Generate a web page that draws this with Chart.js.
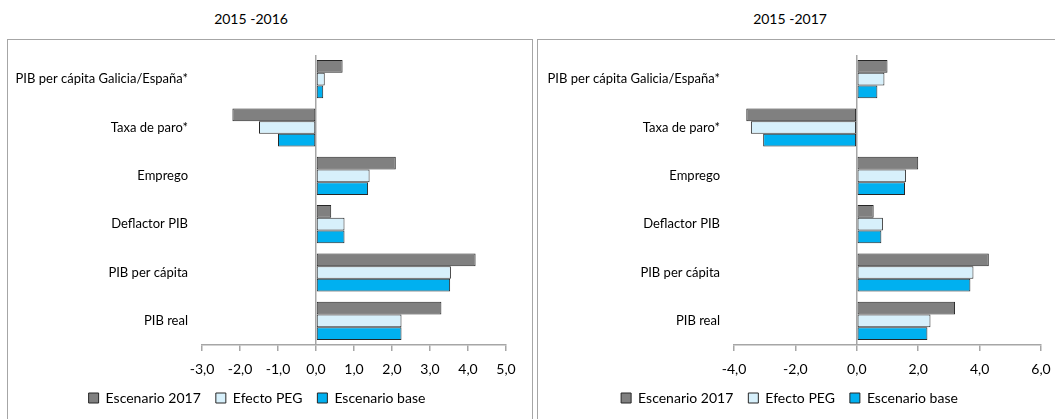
<!DOCTYPE html>
<html>
<head>
<meta charset="utf-8">
<script src="https://cdn.jsdelivr.net/npm/chart.js@4.4.1/dist/chart.umd.min.js"></script>
<style>
    body { margin: 0; width: 1055px; height: 419px; overflow: hidden; background: #fff; font-family: Lato, sans-serif; position: relative; }
    .title { position: absolute; top: 10px; font-size: 14px; line-height: 18px; color: #000; width: 200px; text-align: center; }
    .panel { position: absolute; top: 39px; height: 400px; border: 1px solid #a6a6a6; background: #fff; }
    canvas { display: block; }
</style>
</head>
<body>
<div class="title" style="left:151px">2015 -2016</div>
<div class="title" style="left:690px">2015 -2017</div>
<div class="panel" style="left:7px"><canvas id="chart1516" width="524" height="375"></canvas></div>
<div class="panel" style="left:537px"><canvas id="chart1517" width="527" height="375"></canvas></div>
<script>
// categories, top to bottom
const categories = ['PIB per cápita Galicia/España*', 'Taxa de paro*', 'Emprego', 'Deflactor PIB', 'PIB per cápita', 'PIB real'];
const seriesNames = ['Escenario 2017', 'Efecto PEG', 'Escenario base'];

// 2015-2016
const escenario2017_1516 = [0.7, -2.2, 2.1, 0.4, 4.2, 3.3];
const efectoPEG_1516 = [0.23, -1.5, 1.41, 0.75, 3.55, 2.25];
const escenarioBase_1516 = [0.19, -1.0, 1.37, 0.75, 3.53, 2.25];
const xTicks_1516 = [-3, -2, -1, 0, 1, 2, 3, 4, 5];

// 2015-2017
const escenario2017_1517 = [1.0, -3.6, 2.0, 0.55, 4.3, 3.2];
const efectoPEG_1517 = [0.9, -3.45, 1.6, 0.85, 3.8, 2.4];
const escenarioBase_1517 = [0.67, -3.05, 1.57, 0.8, 3.7, 2.3];
const xTicks_1517 = [-4, -2, 0, 2, 4, 6];

const fills = ['#808080', '#d7f0fb', '#00b0f0'];
const FONT = 'Lato, sans-serif';

function fmt(v) {
    return v.toFixed(1).replace('.', ',');
}

/**
 * Build one horizontal bar panel
 */
function makeChart(id, series, xTicks, yWidth, padRight) {
    const ctx = document.getElementById(id);
    return new Chart(ctx, {
        type: 'bar',
        data: {
            labels: categories,
            datasets: series.map((values, i) => ({
                label: seriesNames[i],
                data: values,
                backgroundColor: fills[i],
                borderColor: '#262626',
                borderWidth: 1,
                borderSkipped: false,
                categoryPercentage: 0.79,
                barPercentage: 1.0
            }))
        },
        options: {
            indexAxis: 'y',
            responsive: false,
            animation: false,
            layout: {
                padding: { top: 15, right: padRight, left: 0, bottom: 0 }
            },
            plugins: {
                tooltip: { enabled: false },
                legend: {
                    position: 'bottom',
                    labels: {
                        boxWidth: 10,
                        boxHeight: 10,
                        padding: 15,
                        color: '#000',
                        font: { family: FONT, size: 14 }
                    }
                }
            },
            scales: {
                x: {
                    min: xTicks[0],
                    max: xTicks[xTicks.length - 1],
                    ticks: {
                        stepSize: xTicks[1] - xTicks[0],
                        color: '#000',
                        padding: 10,
                        font: { family: FONT, size: 14 },
                        callback: (v) => fmt(v)
                    },
                    grid: {
                        drawOnChartArea: true,
                        color: (c) => (c.tick && c.tick.value === 0 ? '#a6a6a6' : 'transparent'),
                        lineWidth: 1.5,
                        tickColor: '#a6a6a6',
                        tickLength: 6
                    },
                    border: { display: true, color: '#a6a6a6', width: 1.5 },
                    // fixed height keeps the plot bottom and legend in place
                    afterFit: (scale) => { scale.height = 31; }
                },
                y: {
                    ticks: {
                        color: '#000',
                        padding: 14,
                        font: { family: FONT, size: 13 }
                    },
                    grid: { display: false, drawTicks: false },
                    border: { display: false },
                    afterFit: (scale) => {
                        scale.width = yWidth;
                        scale.paddingTop = 0;
                        scale.paddingBottom = 0;
                    }
                }
            }
        }
    });
}

makeChart('chart1516', [escenario2017_1516, efectoPEG_1516, escenarioBase_1516], xTicks_1516, 194, 26);
makeChart('chart1517', [escenario2017_1517, efectoPEG_1517, escenarioBase_1517], xTicks_1517, 196, 24);
</script>
</body>
</html>
